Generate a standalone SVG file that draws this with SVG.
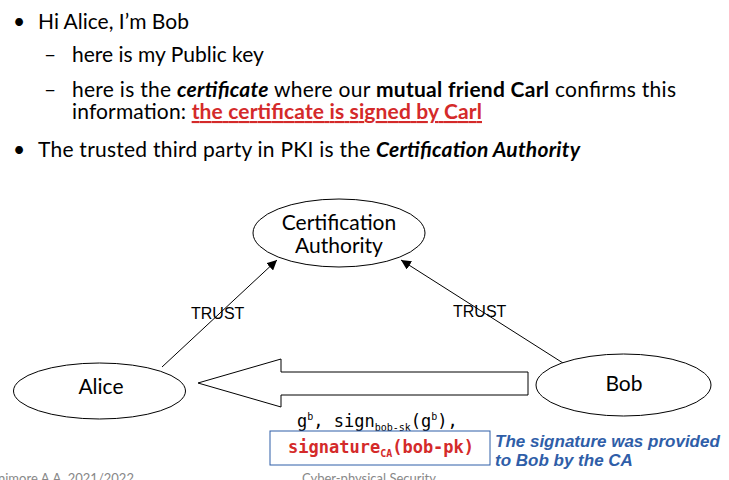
<svg xmlns="http://www.w3.org/2000/svg" width="729" height="480" viewBox="0 0 729 480">
<style>
.t{font-family:Lato,"Liberation Sans",sans-serif;font-size:21px;fill:#000}
.b{font-weight:bold}
.i{font-style:italic}
.red{fill:#D42A2A}
.node{fill:#fff;stroke:#000;stroke-width:1}
.lbl{font-family:Lato,"Liberation Sans",sans-serif;font-size:21px;fill:#000;text-anchor:middle}
.trust{font-family:"Liberation Sans",Arial,sans-serif;font-size:16px;fill:#000}
.edge{stroke:#000;stroke-width:1;fill:none}
.mono{font-family:"DejaVu Sans Mono","Liberation Mono",monospace;font-size:17px}
.note{font-family:"Liberation Sans",Arial,sans-serif;font-size:17px;font-weight:bold;font-style:italic;fill:#2F5EA8}
.foot{font-family:Lato,"Liberation Sans",sans-serif;font-size:13px;fill:#888}
</style>
<defs>
<marker id="ah" viewBox="0 0 10 10" refX="10" refY="5" markerWidth="10" markerHeight="10" markerUnits="userSpaceOnUse" orient="auto">
<path d="M0,0 L10,5 L0,10 z" fill="#000"/>
</marker>
</defs>
<g id="text-bullets">
<text class="t" x="13" y="29">•</text>
<text class="t" x="38" y="29">Hi Alice, I’m Bob</text>
<text class="t" x="44" y="62">–</text>
<text class="t" x="72" y="62">here is my Public key</text>
<text class="t" x="44" y="97">–</text>
<text class="t" x="72" y="97" textLength="604">here is the <tspan class="b i">certificate</tspan> where our <tspan class="b">mutual friend Carl</tspan> confirms this</text>
<text class="t" x="72" y="119" textLength="410">information: <tspan class="b red" text-decoration="underline">the certificate is signed by Carl</tspan></text>
<text class="t" x="13" y="157">•</text>
<text class="t" x="38" y="157" textLength="542">The trusted third party in PKI is the <tspan class="b i">Certification Authority</tspan></text>
</g>
<g id="connectors">
<line class="edge" x1="162" y1="367" x2="277" y2="260" marker-end="url(#ah)"/>
<line class="edge" x1="563" y1="363" x2="401" y2="260" marker-end="url(#ah)"/>
<text class="trust" x="191" y="319">TRUST</text>
<text class="trust" x="453" y="317">TRUST</text>
<polygon id="msg-arrow" class="node" points="198,383 281,359 281,372 528,372 528,395 281,395 281,407"/>
</g>
<g id="ca">
<ellipse class="node" cx="339" cy="233" rx="86" ry="34"/>
<text class="lbl" x="339" y="230">Certification</text>
<text class="lbl" x="339" y="253">Authority</text>
</g>
<g id="alice">
<ellipse class="node" cx="99.5" cy="391" rx="86" ry="28"/>
<text class="lbl" x="101" y="394">Alice</text>
</g>
<g id="bob">
<ellipse class="node" cx="623.5" cy="385" rx="87.5" ry="31"/>
<text class="lbl" x="624" y="391">Bob</text>
</g>
<g id="message">
<text class="mono" x="297" y="427">g<tspan font-size="10" dy="-7">b</tspan><tspan dy="7">, sign</tspan><tspan font-size="10" dy="4">bob-sk</tspan><tspan dy="-4">(g</tspan><tspan font-size="10" dy="-7">b</tspan><tspan dy="7">),</tspan></text>
<rect x="270" y="431" width="220" height="34" fill="none" stroke="#2F5EA8" stroke-width="1"/>
<text class="mono b red" x="288" y="453" font-size="17.5">signature<tspan font-size="10" dy="4">CA</tspan><tspan dy="-4">(bob-pk)</tspan></text>
<text class="note" x="495" y="447">The signature was provided</text>
<text class="note" x="495" y="466">to Bob by the CA</text>
</g>
<g id="footer">
<text class="foot" x="-2" y="483">nimore A.A. 2021/2022</text>
<text class="foot" x="302" y="483">Cyber-physical Security</text>
</g>
</svg>
